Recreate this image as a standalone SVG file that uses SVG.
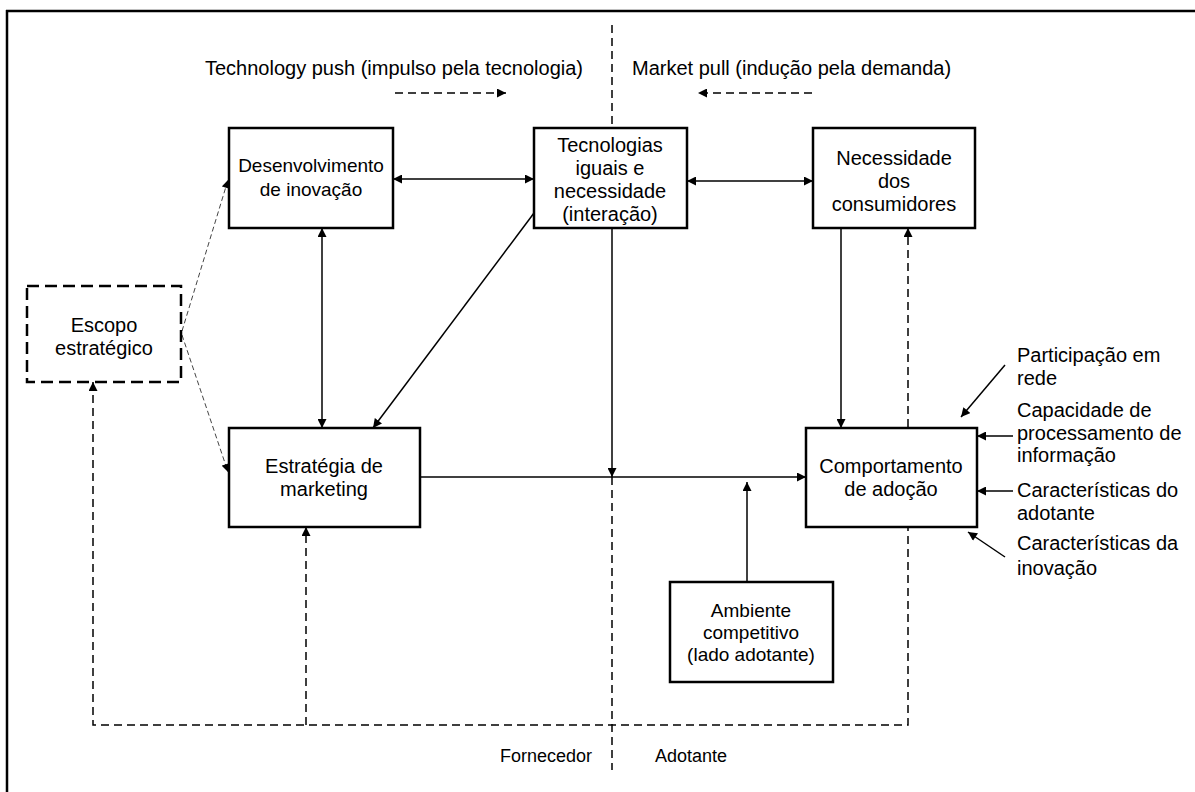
<svg xmlns="http://www.w3.org/2000/svg" width="1195" height="792" viewBox="0 0 1195 792">
<defs>
<marker id="ah" viewBox="0 0 10 10" refX="10" refY="5" markerWidth="10" markerHeight="9" markerUnits="userSpaceOnUse" orient="auto-start-reverse"><path d="M0,0 L10,5 L0,10 z" fill="#000"/></marker>
<marker id="ahs" viewBox="0 0 10 10" refX="10" refY="5" markerWidth="9" markerHeight="8" markerUnits="userSpaceOnUse" orient="auto"><path d="M0,0 L10,5 L0,10 z" fill="#000"/></marker>
<style>
.box{fill:#fff;stroke:#000;stroke-width:2.5}
.dbox{fill:#fff;stroke:#000;stroke-width:2.5;stroke-dasharray:12 6}
text{font-family:"Liberation Sans",Arial,sans-serif;font-size:20px;fill:#000}
.c{text-anchor:middle}
.s{font-size:19px}
.b{font-size:18px}
.ln{fill:none;stroke:#000;stroke-width:1.5}
.dl{fill:none;stroke:#000;stroke-width:1.5;stroke-dasharray:8 5}
.tdl{fill:none;stroke:#444;stroke-width:1;stroke-dasharray:5 3}
</style>
</defs>
<rect width="1195" height="792" fill="#fff"/>
<g id="frame">
<line x1="6" y1="11" x2="1195" y2="11" stroke="#000" stroke-width="2.5"/>
<line x1="7" y1="10" x2="7" y2="792" stroke="#000" stroke-width="2.5"/>
<line class="dl" x1="612" y1="25" x2="612" y2="128"/>
<line class="dl" x1="612" y1="477" x2="612" y2="770"/>
</g>
<g id="labels">
<text x="583" y="75" text-anchor="end">Technology push (impulso pela tecnologia)</text>
<text x="632" y="75">Market pull (indução pela demanda)</text>
<text class="b" x="592" y="762" text-anchor="end">Fornecedor</text>
<text class="b" x="655" y="762">Adotante</text>
<text x="1017" y="362">Participação em</text>
<text x="1017" y="385">rede</text>
<text x="1017" y="417">Capacidade de</text>
<text x="1017" y="440">processamento de</text>
<text x="1017" y="462">informação</text>
<text x="1017" y="497">Características do</text>
<text x="1017" y="520">adotante</text>
<text x="1017" y="550">Características da</text>
<text x="1017" y="575">inovação</text>
</g>
<g id="connectors">
<line class="dl" x1="395" y1="93" x2="506" y2="93" marker-end="url(#ah)"/>
<line class="dl" x1="812" y1="93" x2="698" y2="93" marker-end="url(#ah)"/>
<line class="ln" x1="393" y1="179" x2="534" y2="179" marker-start="url(#ah)" marker-end="url(#ah)"/>
<line class="ln" x1="687" y1="181" x2="813" y2="181" marker-start="url(#ah)" marker-end="url(#ah)"/>
<line class="ln" x1="322" y1="228" x2="322" y2="428" marker-start="url(#ah)" marker-end="url(#ah)"/>
<line class="ln" x1="534" y1="213" x2="373" y2="428" marker-end="url(#ah)"/>
<line class="ln" x1="612" y1="228" x2="612" y2="477" marker-end="url(#ah)"/>
<line class="ln" x1="420" y1="477" x2="806" y2="477" marker-end="url(#ah)"/>
<line class="ln" x1="747" y1="582" x2="747" y2="482" marker-end="url(#ah)"/>
<line class="ln" x1="841" y1="228" x2="841" y2="428" marker-end="url(#ah)"/>
<polyline class="dl" points="93,382 93,725 908,725 908,228" marker-start="url(#ah)" marker-end="url(#ah)"/>
<line class="dl" x1="306" y1="725" x2="306" y2="527" marker-end="url(#ah)"/>
<line class="tdl" x1="182" y1="331" x2="228" y2="180" marker-end="url(#ahs)"/>
<line class="tdl" x1="182" y1="335" x2="228" y2="472" marker-end="url(#ahs)"/>
<line class="ln" x1="1005" y1="365" x2="961" y2="417" marker-end="url(#ah)"/>
<line class="ln" x1="1013" y1="436" x2="977" y2="436" marker-end="url(#ah)"/>
<line class="ln" x1="1013" y1="491" x2="977" y2="491" marker-end="url(#ah)"/>
<line class="ln" x1="1005" y1="557" x2="968" y2="532" marker-end="url(#ah)"/>
</g>
<g id="desenvolvimento">
<rect class="box" x="229" y="128" width="164" height="100"/>
<text class="c s" x="311" y="172">Desenvolvimento</text>
<text class="c s" x="311" y="196">de inovação</text>
</g>
<g id="tecnologias">
<rect class="box" x="534" y="128" width="153" height="100"/>
<text class="c" x="610" y="152">Tecnologias</text>
<text class="c" x="610" y="175">iguais e</text>
<text class="c" x="610" y="198">necessidade</text>
<text class="c" x="610" y="221">(interação)</text>
</g>
<g id="necessidade">
<rect class="box" x="813" y="128" width="162" height="100"/>
<text class="c" x="894" y="165">Necessidade</text>
<text class="c" x="894" y="188">dos</text>
<text class="c" x="894" y="211">consumidores</text>
</g>
<g id="escopo">
<rect class="dbox" x="27" y="286" width="154" height="96"/>
<text class="c" x="104" y="332">Escopo</text>
<text class="c" x="104" y="355">estratégico</text>
</g>
<g id="estrategia">
<rect class="box" x="229" y="428" width="191" height="99"/>
<text class="c" x="324" y="473">Estratégia de</text>
<text class="c" x="324" y="496">marketing</text>
</g>
<g id="comportamento">
<rect class="box" x="806" y="428" width="171" height="99"/>
<text class="c" x="891" y="473">Comportamento</text>
<text class="c" x="891" y="496">de adoção</text>
</g>
<g id="ambiente">
<rect class="box" x="670" y="582" width="163" height="100"/>
<text class="c s" x="751" y="617">Ambiente</text>
<text class="c s" x="751" y="639">competitivo</text>
<text class="c s" x="751" y="661">(lado adotante)</text>
</g>
</svg>
